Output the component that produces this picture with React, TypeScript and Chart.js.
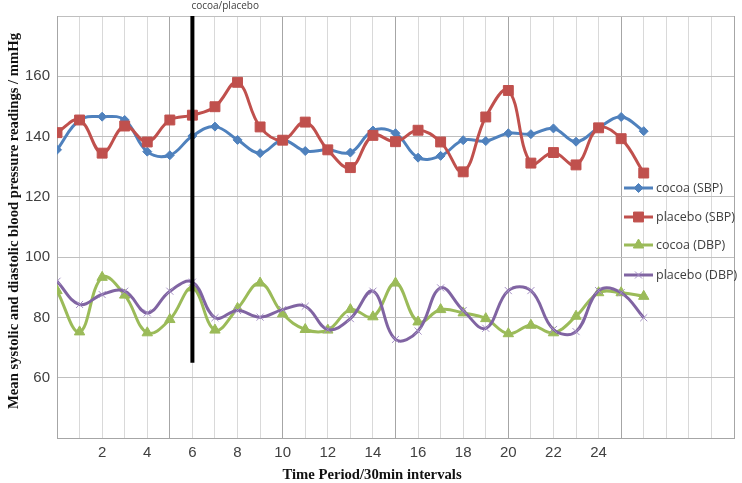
import React, { useEffect, useRef } from 'react';
import { Chart, registerables } from 'chart.js';
import { drawPoint } from 'chart.js/helpers';

Chart.register(...registerables);

const timePoints = [0, 1, 2, 3, 4, 5, 6, 7, 8, 9, 10, 11, 12, 13, 14, 15, 16, 17, 18, 19, 20, 21, 22, 23, 24, 25, 26];
const cocoaSBP = [135.6, 145.5, 146.6, 145.5, 135, 133.8, 140.2, 143.3, 138.9, 134.5, 138.8, 135.2, 135.6, 134.7, 142, 141.1, 133, 133.6, 138.8, 138.5, 141.1, 140.8, 142.7, 138.3, 142.9, 146.5, 141.8];
const placeboSBP = [141.3, 145.5, 134.5, 143.5, 138.2, 145.5, 147.1, 149.9, 158, 143.2, 138.8, 144.8, 135.6, 129.7, 140.4, 138.3, 142.1, 138.2, 128.3, 146.5, 155.3, 131.2, 134.7, 130.6, 142.9, 139.3, 127.9];
const cocoaDBP = [88.9, 75.2, 93.3, 87.4, 74.9, 79.3, 89.8, 75.8, 83, 91.4, 81.2, 76, 75.8, 82.6, 80.2, 91.4, 78.5, 82.6, 81.5, 79.6, 74.6, 77.4, 74.9, 80.4, 88.2, 88.2, 87];
const placeboDBP = [92, 84.3, 87.6, 88.7, 81.5, 88.7, 91.7, 79.9, 82.3, 80.1, 82.6, 83.7, 76, 79.6, 88.7, 72.7, 75.5, 89.8, 82.3, 76.4, 88.9, 88.9, 76, 75.3, 88.9, 88.2, 79.9];

const seriesNames = ['cocoa (SBP)', 'placebo (SBP)', 'cocoa (DBP)', 'placebo (DBP)'];
const xTickLabels = [2, 4, 6, 8, 10, 12, 14, 16, 18, 20, 22, 24];
const yTickLabels = [60, 80, 100, 120, 140, 160];
const xAxisRange = [0, 30];
const yAxisRange = [40, 180];
const interventionTime = 6;
const interventionLineBottom = 65;
const interventionLabel = 'cocoa/placebo';
const xTitle = 'Time Period/30min intervals';
const yTitle = 'Mean systolic and diastolic blood pressure readings / mmHg';

const BLUE = '#4F81BD';
const RED = '#C0504D';
const GREEN = '#9BBB59';
const PURPLE = '#8064A2';
const PURPLE_LIGHT = '#A48FC4';

export default function App() {
  const ref = useRef<HTMLCanvasElement>(null);

  useEffect(() => {
    const canvas = ref.current;
    if (!canvas) return;

    const mk = (vals: number[]) => timePoints.map((t, i) => ({ x: t, y: vals[i] }));

    const styles = [
      { color: BLUE, pointStyle: 'rectRot', radius: 4.5, pointBorder: BLUE, pointBg: BLUE, pbw: 1 },
      { color: RED, pointStyle: 'rect', radius: 7, pointBorder: RED, pointBg: RED, pbw: 1 },
      { color: GREEN, pointStyle: 'triangle', radius: 6, pointBorder: GREEN, pointBg: GREEN, pbw: 1 },
      { color: PURPLE, pointStyle: 'crossRot', radius: 5, pointBorder: PURPLE_LIGHT, pointBg: PURPLE_LIGHT, pbw: 1 },
    ];
    const values = [cocoaSBP, placeboSBP, cocoaDBP, placeboDBP];

    const overlay = {
      id: 'overlay',
      afterDatasetsDraw(chart: any) {
        const { ctx, chartArea, scales } = chart;
        const x = scales.x.getPixelForValue(interventionTime);
        const yb = scales.y.getPixelForValue(interventionLineBottom);
        ctx.save();
        ctx.strokeStyle = '#000';
        ctx.lineWidth = 4;
        ctx.beginPath();
        ctx.moveTo(x, chartArea.top);
        ctx.lineTo(x, yb);
        ctx.stroke();
        ctx.restore();
      },
      afterDraw(chart: any) {
        const { ctx, scales } = chart;
        ctx.save();
        ctx.fillStyle = '#404040';
        ctx.font = '10px "Open Sans"';
        ctx.textAlign = 'left';
        ctx.textBaseline = 'middle';
        ctx.fillText(interventionLabel, scales.x.getPixelForValue(interventionTime) - 1, 6);

        const ly = [188, 217, 245, 275];
        seriesNames.forEach((name, i) => {
          const s = styles[i];
          const y = ly[i];
          ctx.strokeStyle = s.color;
          ctx.lineWidth = 3;
          ctx.beginPath();
          ctx.moveTo(624, y);
          ctx.lineTo(653, y);
          ctx.stroke();
          ctx.fillStyle = s.pointBg;
          ctx.strokeStyle = s.pointBorder;
          ctx.lineWidth = s.pbw;
          drawPoint(ctx, { pointStyle: s.pointStyle as any, radius: s.radius, rotation: 0, borderWidth: s.pbw }, 638.5, y);
          ctx.fillStyle = '#404040';
          ctx.font = '12.5px "Open Sans"';
          ctx.textAlign = 'left';
          ctx.textBaseline = 'middle';
          ctx.fillText(name, 656, y);
        });

        ctx.fillStyle = '#111';
        ctx.font = 'bold 14.7px "Liberation Serif"';
        ctx.textAlign = 'center';
        ctx.textBaseline = 'middle';
        ctx.fillText(xTitle, 372, 475);
        ctx.translate(14, 221);
        ctx.rotate(-Math.PI / 2);
        ctx.fillText(yTitle, 0, 0);
        ctx.restore();
      },
    };

    const chart = new Chart(canvas, {
      type: 'line',
      data: {
        datasets: values.map((v, i) => ({
          label: seriesNames[i],
          data: mk(v),
          borderColor: styles[i].color,
          backgroundColor: styles[i].color,
          borderWidth: 3,
          tension: 0.4,
          pointStyle: styles[i].pointStyle as any,
          pointRadius: styles[i].radius,
          pointBackgroundColor: styles[i].pointBg,
          pointBorderColor: styles[i].pointBorder,
          pointBorderWidth: styles[i].pbw,
          order: 4 - i,
          fill: false,
        })),
      },
      options: {
        responsive: false,
        animation: false,
        devicePixelRatio: 1,
        layout: { padding: { top: 13, right: 1, left: 0, bottom: 0 } },
        plugins: {
          legend: { display: false },
          tooltip: { enabled: false },
        },
        scales: {
          x: {
            type: 'linear',
            min: xAxisRange[0],
            max: xAxisRange[1],
            afterFit: (s: any) => { s.height = 45; },
            border: { color: '#a6a6a6', width: 1 },
            grid: {
              drawTicks: false,
              color: (c: any) => (c.tick && c.tick.value % 5 === 0 ? '#a6a6a6' : '#d9d9d9'),
              lineWidth: 1,
            },
            ticks: {
              stepSize: 1,
              autoSkip: false,
              maxRotation: 0,
              minRotation: 0,
              padding: 6,
              color: '#404040',
              font: { family: '"Liberation Sans"', size: 15 },
              callback: (v: any) => (xTickLabels.includes(Number(v)) ? String(v) : ''),
            },
          },
          y: {
            type: 'linear',
            min: yAxisRange[0],
            max: yAxisRange[1],
            afterFit: (s: any) => { s.width = 57; },
            border: { color: '#a6a6a6', width: 1 },
            grid: { drawTicks: false, color: '#bfbfbf', lineWidth: 1 },
            ticks: {
              stepSize: 20,
              padding: 7,
              color: '#404040',
              font: { family: '"Liberation Sans"', size: 15 },
              callback: (v: any) => (yTickLabels.includes(Number(v)) ? String(v) : ''),
            },
          },
        },
      },
      plugins: [overlay],
    });

    return () => chart.destroy();
  }, []);

  return (
    <div style={{ position: 'absolute', left: 0, top: 0, width: 742, height: 483, background: '#fff' }}>
      <canvas ref={ref} width={742} height={483} style={{ display: 'block', width: 742, height: 483 }} />
    </div>
  );
}
